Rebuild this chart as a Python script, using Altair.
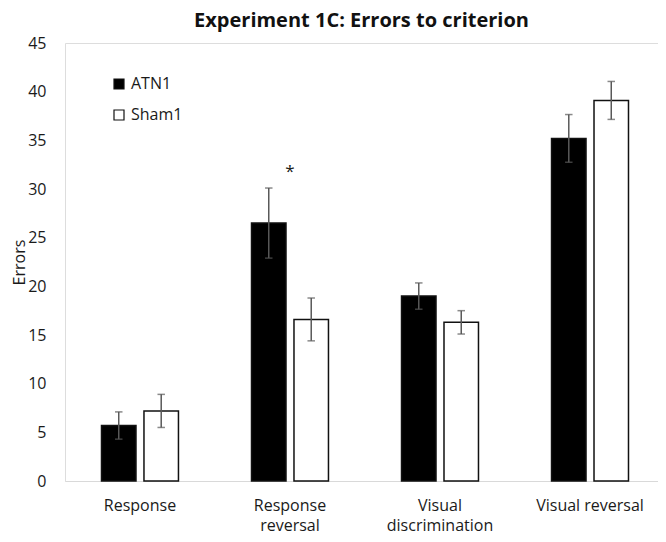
import altair as alt
import pandas as pd

categories = ["Response", "Response reversal", "Visual discrimination", "Visual reversal"]
tick_labels = [["Response"], ["Response", "reversal"], ["Visual", "discrimination"], ["Visual reversal"]]
groups = ["ATN1", "Sham1"]
atn_mean = [5.7, 26.5, 19.0, 35.2]
atn_err = [1.4, 3.6, 1.35, 2.45]
sham_mean = [7.2, 16.6, 16.3, 39.1]
sham_err = [1.7, 2.2, 1.2, 1.95]
sig_category = ["Response reversal"]
sig_y = [31.7]
y_ticks = [0, 5, 10, 15, 20, 25, 30, 35, 40, 45]

rows = []
for i, c in enumerate(categories):
    rows.append({"cat": c, "group": "ATN1", "mean": atn_mean[i],
                 "lo": atn_mean[i] - atn_err[i], "hi": atn_mean[i] + atn_err[i]})
    rows.append({"cat": c, "group": "Sham1", "mean": sham_mean[i],
                 "lo": sham_mean[i] - sham_err[i], "hi": sham_mean[i] + sham_err[i]})
df = pd.DataFrame(rows)
sig_df = pd.DataFrame({"cat": sig_category, "y": sig_y, "t": ["*"] * len(sig_y)})

label_expr = " : ".join(
    [f"datum.value == '{c}' ? {l!r}" for c, l in zip(categories, tick_labels)]
) + " : datum.value"

FONT = "Open Sans"
TXT = "#1a1a1a"

x_enc = alt.X("cat:N", sort=categories, title=None,
              scale=alt.Scale(domain=categories, paddingInner=0.487, paddingOuter=0.22, align=0.553),
              axis=alt.Axis(labelAngle=0, ticks=False, domainColor="#d9d9d9", domainWidth=1,
                            labelFontSize=16, labelFont=FONT, labelColor=TXT,
                            labelPadding=16, labelLineHeight=20, labelExpr=label_expr))
xo_enc = alt.XOffset("group:N", sort=groups,
                     scale=alt.Scale(domain=groups, paddingInner=0.188, paddingOuter=0))
y_scale = alt.Scale(domain=[0, 45], nice=False)

bars = alt.Chart(df).mark_bar(stroke="#111111", strokeWidth=1.5).encode(
    x=x_enc,
    xOffset=xo_enc,
    y=alt.Y("mean:Q", scale=y_scale, title="Errors",
            axis=alt.Axis(values=y_ticks, grid=False, domain=False, ticks=False, tickSize=0,
                          labelFontSize=16, labelFont=FONT, labelColor=TXT, labelPadding=19,
                          titleFontSize=16, titleFont=FONT, titleFontWeight="normal",
                          titleColor=TXT, titlePadding=0)),
    fill=alt.Fill("group:N", sort=groups,
                  scale=alt.Scale(domain=groups, range=["#000000", "#ffffff"]),
                  legend=alt.Legend(title=None, orient="none", legendX=46, legendY=33,
                                    symbolType="square", symbolSize=100,
                                    symbolStrokeColor="#111111", symbolStrokeWidth=1.2,
                                    labelFontSize=16, labelFont=FONT, labelColor=TXT,
                                    labelOffset=4, rowPadding=15, padding=0)),
)

err = alt.Chart(df).mark_rule(color="#595959", strokeWidth=1.5).encode(
    x=alt.X("cat:N", sort=categories), xOffset=xo_enc,
    y=alt.Y("lo:Q", scale=y_scale), y2="hi:Q")
cap_lo = alt.Chart(df).mark_tick(color="#595959", thickness=1.5, size=7.5, orient="horizontal").encode(
    x=alt.X("cat:N", sort=categories), xOffset=xo_enc, y=alt.Y("lo:Q", scale=y_scale))
cap_hi = alt.Chart(df).mark_tick(color="#595959", thickness=1.5, size=7.5, orient="horizontal").encode(
    x=alt.X("cat:N", sort=categories), xOffset=xo_enc, y=alt.Y("hi:Q", scale=y_scale))
star = alt.Chart(sig_df).mark_text(fontSize=17, font=FONT, color=TXT, baseline="middle").encode(
    x=alt.X("cat:N", sort=categories), y=alt.Y("y:Q", scale=y_scale), text="t:N")

chart = alt.layer(bars, err, cap_lo, cap_hi, star).properties(
    width=593, height=438,
    autosize=alt.AutoSizeParams(type="none"),
    padding={"left": 57, "top": 35, "right": 0, "bottom": 53},
    title=alt.Title("Experiment 1C: Errors to criterion", font=FONT, fontSize=20,
                    fontWeight="bold", color="#111111", anchor="middle", offset=4),
).configure_view(stroke=None).configure(background="white")

chart.save("out.html", embed_options={"renderer": "svg", "actions": False})
